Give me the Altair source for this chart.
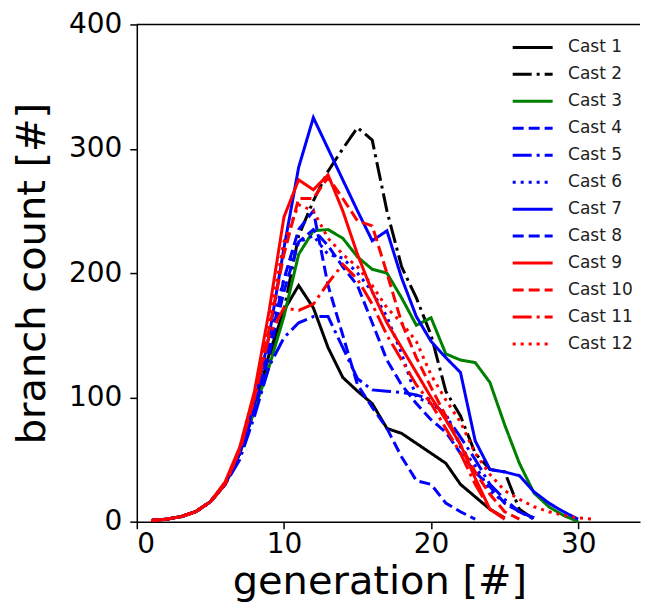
import altair as alt
import pandas as pd

casts = [f"Cast {i}" for i in range(1, 13)]
colors = ["black", "black", "#008000", "#0000ff", "#0000ff", "#0000ff",
          "#0000ff", "#0000ff", "#ff0000", "#ff0000", "#ff0000", "#ff0000"]
dashes = [[1, 0], [19, 5, 3, 5], [1, 0], [11, 5], [19, 5, 3, 5], [3, 5],
          [1, 0], [11, 5], [1, 0], [11, 5], [19, 5, 3, 5], [3, 5]]

c1 = [1, 2, 4, 8, 16, 30, 55, 90, 135, 170, 190, 172, 140, 116, 105, 95, 75, 71, 63, 55, 47, 30, 20, 10, 3]
c2 = [1, 2, 4, 8, 16, 30, 55, 90, 130, 170, 230, 258, 282, 300, 317, 307, 250, 205, 180, 150, 105, 85, 55, 42, 40, 10, 2]
c3 = [1, 2, 4, 8, 16, 30, 55, 90, 125, 165, 215, 234, 235, 228, 213, 203, 200, 180, 158, 164, 135, 130, 128, 112, 78, 47, 23, 12, 5, 0]
c4 = [1, 2, 4, 8, 16, 30, 55, 90, 140, 195, 235, 250, 190, 150, 110, 92, 75, 52, 33, 30, 15, 8, 2]
c5 = [1, 2, 4, 8, 16, 30, 50, 85, 125, 148, 160, 165, 165, 140, 115, 106, 105, 104, 102, 98, 85, 68, 50, 30, 18, 8, 2]
c6 = [1, 2, 4, 8, 16, 30, 55, 95, 150, 195, 225, 230, 215, 212, 200, 185, 165, 135, 100, 95, 87, 60, 45, 25, 15, 8, 3]
c7 = [1, 2, 4, 8, 16, 30, 55, 95, 150, 220, 285, 325, 300, 275, 250, 226, 234, 196, 165, 145, 132, 120, 65, 42, 40, 37, 24, 15, 8, 2]
c8 = [1, 2, 4, 8, 16, 30, 55, 90, 135, 185, 225, 235, 222, 205, 190, 160, 130, 110, 95, 82, 72, 55, 40, 28, 15, 8, 3]
c9 = [1, 2, 4, 8, 16, 32, 60, 105, 170, 245, 275, 267, 279, 250, 215, 185, 160, 140, 120, 100, 82, 62, 35, 10, 2]
c10 = [1, 2, 4, 8, 16, 30, 58, 100, 155, 215, 260, 260, 277, 260, 242, 238, 200, 160, 132, 108, 85, 62, 40, 22, 8, 2]
c11 = [1, 2, 4, 8, 16, 30, 58, 100, 150, 172, 170, 175, 192, 207, 195, 175, 150, 130, 110, 95, 75, 55, 30, 10, 3]
c12 = [1, 2, 4, 8, 16, 30, 58, 100, 160, 225, 255, 250, 228, 215, 205, 190, 172, 160, 145, 118, 98, 80, 55, 38, 25, 18, 12, 8, 5, 3, 2]

series = [c1, c2, c3, c4, c5, c6, c7, c8, c9, c10, c11, c12]

rows = []
for name, vals in zip(casts, series):
    for g, v in enumerate(vals, start=1):
        rows.append({"gen": g, "count": v, "cast": name})
df = pd.DataFrame(rows)

W, H = 504, 498
FONT = "DejaVu Sans"

lines = alt.Chart(df).mark_line(strokeWidth=3, strokeCap="butt", strokeJoin="miter").encode(
    x=alt.X("gen:Q", scale=alt.Scale(domain=[0, 34.2], nice=False, zero=False),
            axis=alt.Axis(values=[0, 10, 20, 30], title="generation [#]", titleX=243,
                          labelPadding=2, titlePadding=3)),
    y=alt.Y("count:Q", scale=alt.Scale(domain=[0, 400], nice=False),
            axis=alt.Axis(values=[0, 100, 200, 300, 400], title="branch count [#]",
                          labelPadding=8, titlePadding=16)),
    color=alt.Color("cast:N", scale=alt.Scale(domain=casts, range=colors),
                    legend=alt.Legend(title=None, orient="none", legendX=375, legendY=13,
                                      symbolType="stroke", symbolSize=1600, symbolStrokeWidth=3,
                                      labelFontSize=17, labelFont=FONT, labelColor="#222",
                                      labelOffset=14, clipHeight=20, rowPadding=7, padding=0)),
    strokeDash=alt.StrokeDash("cast:N", scale=alt.Scale(domain=casts, range=dashes), legend=None),
    detail="cast:N",
    order="gen:Q",
)

top = alt.Chart(pd.DataFrame({"a": [0]})).mark_rule(color="black", strokeWidth=1.5).encode(
    x=alt.value(0), x2=alt.value(W), y=alt.value(0)
)

chart = alt.layer(lines, top).properties(
    width=W, height=H, padding={"left": 4, "top": 2, "right": 0, "bottom": 0}
).configure_view(stroke=None).configure_axis(
    domainColor="black", domainWidth=1.5, tickColor="black", tickWidth=1.5, tickSize=7,
    labelFont=FONT, labelFontSize=28, labelColor="black",
    titleFont=FONT, titleFontSize=40, titleFontWeight="normal", titleColor="black",
    grid=False
)

chart.save("out.html", embed_options={"renderer": "svg", "actions": False})
